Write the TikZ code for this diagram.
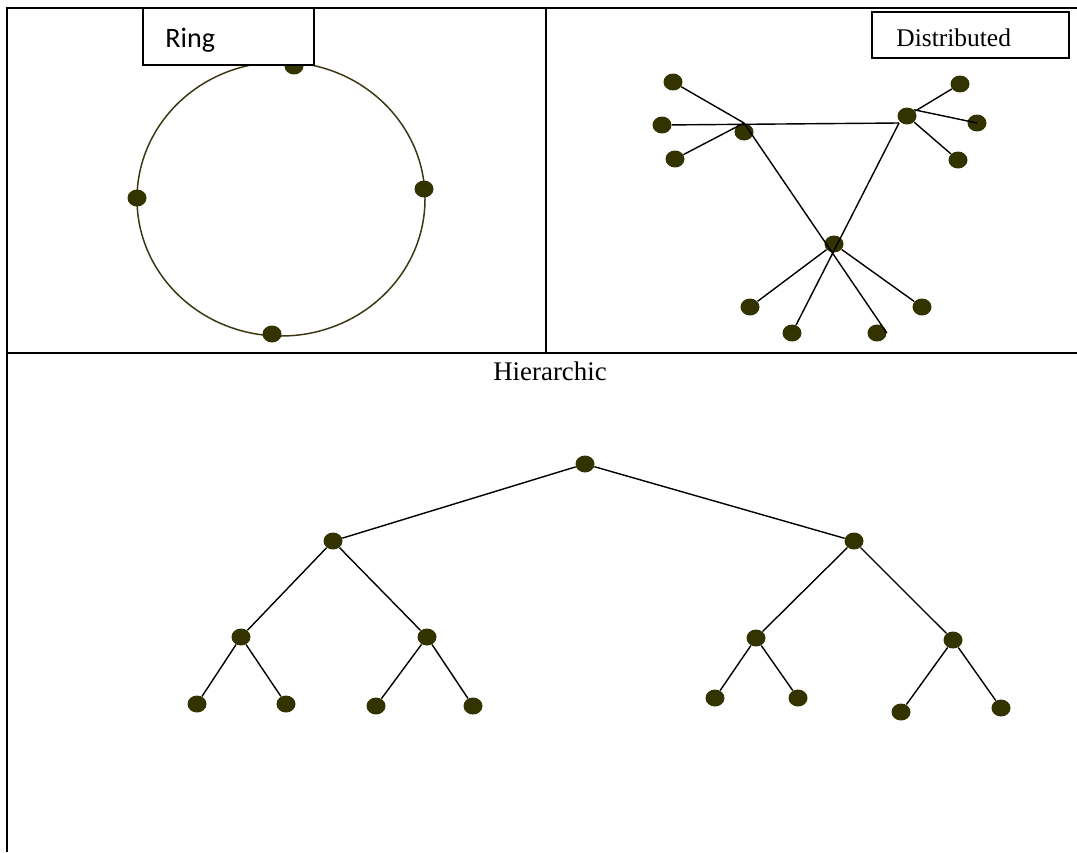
\documentclass[tikz,border=0pt]{standalone}
\usepackage{fontspec}
\setmainfont{Liberation Serif}
\newfontfamily\calibrifont{Carlito}
\usetikzlibrary{shapes.geometric}

\definecolor{dotolive}{RGB}{51,51,0}
\definecolor{ringolive}{RGB}{60,56,20}

\tikzset{
    panel/.style={line width=1.1pt},
    dot/.style={ellipse, fill=dotolive, inner sep=0pt, minimum width=0.38cm, minimum height=0.34cm},
    link/.style={line width=0.8pt},
    ringline/.style={draw=ringolive, line width=0.85pt},
    labelbox/.style={draw=black, fill=white, line width=0.8pt},
}

\begin{document}
\begin{tikzpicture}[x=0.02cm, y=-0.02cm]
    \useasboundingbox (0,0) rectangle (1077,852);
    % panels
    \draw[panel] (1077,8) -- (7,8) -- (7,852);
    \draw[panel] (7,353) -- (1077,353);
    \draw[panel] (546,8) -- (546,353);

    % ring
    \draw[ringline] (281,199) ellipse [x radius=144, y radius=137];
    \foreach \n/\x/\y in {top/294/66, right/424/189, left/137/198, bottom/272/334}
        \node[dot] (ring-\n) at (\x,\y) {};
    \draw[labelbox] (143,8) rectangle (314,65);
    \node[anchor=base west, inner sep=0pt, font=\calibrifont\fontsize{16}{19}\selectfont] (ringlabel) at (165,47) {Ring};

    % distributed
    \foreach \n/\x/\y in {a1/673/82, a2/662/125, a3/675/159, A/744/132,
                          B/907/116, b1/960/84, b2/977/123, b3/958/160,
                          C/834/244, c1/750/307, c2/792/333, c3/877/333, c4/922/307}
        \node[dot] (\n) at (\x,\y) {};
    \coordinate (ja) at (744,123);
    \coordinate (jb) at (899,123);
    \draw[link] (a1) -- (ja) (a3) -- (ja) (a2) -- (jb);
    \draw[link] (ja) -- (c3.east) (jb) -- (c2);
    \draw[link] (C) -- (c1) (C) -- (c4);
    \draw[link] (B) -- (b1) (B.north east) -- (b2.center) (B) -- (b3);
    \draw[labelbox] (872,12) rectangle (1069,58);
    \node[anchor=base west, inner sep=0pt, font=\fontsize{14.5}{17}\selectfont] (distlabel) at (896,46) {Distributed};

    % hierarchic
    \node[anchor=base, inner sep=0pt, font=\fontsize{15.3}{18}\selectfont] (hierlabel) at (550,380) {Hierarchic};
    \foreach \n/\x/\y in {root/585/464, l/333/541, r/854/541,
                          ll/241/637, lr/427/637, rl/756/638, rr/953/640,
                          lll/197/704, llr/286/704, lrl/376/706, lrr/473/706,
                          rll/715/698, rlr/798/698, rrl/901/712, rrr/1001/708}
        \node[dot] (\n) at (\x,\y) {};
    \foreach \p/\c in {root/l, root/r, l/ll, l/lr, r/rl, r/rr, ll/lll, ll/llr,
                       lr/lrl, lr/lrr, rl/rll, rl/rlr, rr/rrl, rr/rrr}
        \draw[link] (\p) -- (\c);
\end{tikzpicture}
\end{document}
